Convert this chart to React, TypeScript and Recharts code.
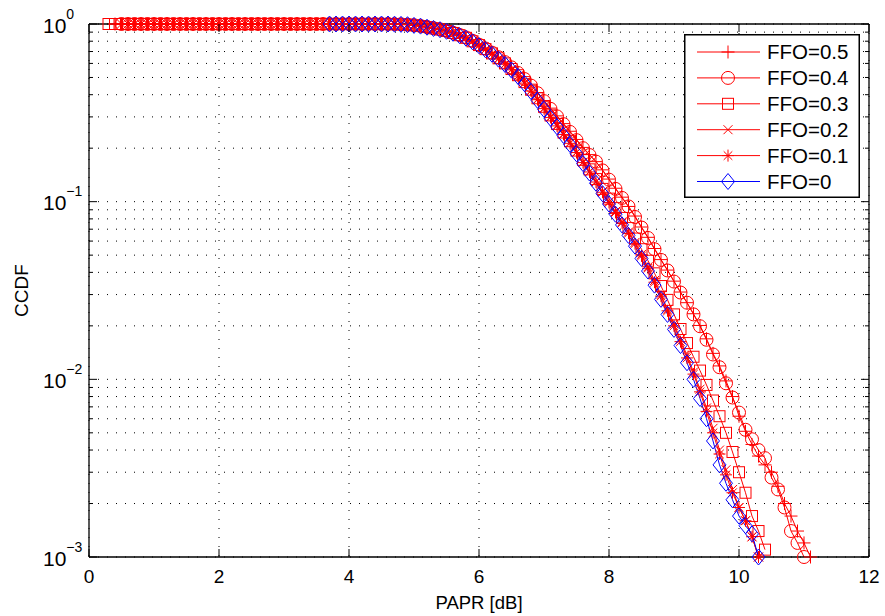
import React from 'react';
import { LineChart, Line, XAxis, YAxis, CartesianGrid, ReferenceLine, Legend } from 'recharts';

// PAPR threshold grid [dB]
const PAPR = [
  0.3, 0.4, 0.5, 0.6, 0.7, 0.8, 0.9, 1.0, 1.1, 1.2,
  1.3, 1.4, 1.5, 1.6, 1.7, 1.8, 1.9, 2.0, 2.1, 2.2,
  2.3, 2.4, 2.5, 2.6, 2.7, 2.8, 2.9, 3.0, 3.1, 3.2,
  3.3, 3.4, 3.5, 3.6, 3.7, 3.8, 3.9, 4.0, 4.1, 4.2,
  4.3, 4.4, 4.5, 4.6, 4.7, 4.8, 4.9, 5.0, 5.1, 5.2,
  5.3, 5.4, 5.5, 5.6, 5.7, 5.8, 5.9, 6.0, 6.1, 6.2,
  6.3, 6.4, 6.5, 6.6, 6.7, 6.8, 6.9, 7.0, 7.1, 7.2,
  7.3, 7.4, 7.5, 7.6, 7.7, 7.8, 7.9, 8.0, 8.1, 8.2,
  8.3, 8.4, 8.5, 8.6, 8.7, 8.8, 8.9, 9.0, 9.1, 9.2,
  9.3, 9.4, 9.5, 9.6, 9.7, 9.8, 9.9, 10.0, 10.1, 10.2,
  10.3, 10.4, 10.5, 10.6, 10.7, 10.8, 10.9, 11.0, 11.1,
];

// CCDF per FFO, each list starts at its own first PAPR value
const FFO_05_START = 0.4;
const FFO_05 = [
  1, 1, 1, 1, 1, 1, 1, 1, 1, 1,
  1, 1, 1, 1, 1, 1, 1, 1, 1, 1,
  1, 1, 1, 1, 1, 1, 1, 1, 1, 1,
  1, 1, 1, 1, 1, 1, 1, 1, 1, 1,
  1, 1, 1,
  0.998, 0.996, 0.992, 0.985, 0.975, 0.963, 0.949, 0.934, 0.916, 0.894,
  0.869, 0.841, 0.805, 0.767, 0.73, 0.692, 0.652, 0.612, 0.572, 0.532,
  0.492, 0.452, 0.411, 0.371, 0.336, 0.304, 0.275, 0.249, 0.224, 0.202,
  0.184, 0.168, 0.151, 0.134, 0.119, 0.106, 0.094, 0.083, 0.072, 0.063,
  0.0545, 0.0472, 0.0412, 0.0357, 0.031, 0.027, 0.0234, 0.0201, 0.0169, 0.014,
  0.0119, 0.0098, 0.008, 0.0062, 0.0051, 0.0043, 0.0037, 0.0033, 0.003, 0.0025,
  0.002, 0.0017, 0.0014, 0.0012, 0.001,
];

const FFO_04_START = 0.5;
const FFO_04 = [
  1, 1, 1, 1, 1, 1, 1, 1, 1, 1,
  1, 1, 1, 1, 1, 1, 1, 1, 1, 1,
  1, 1, 1, 1, 1, 1, 1, 1, 1, 1,
  1, 1, 1, 1, 1, 1, 1, 1, 1, 1,
  1, 1,
  0.998, 0.996, 0.992, 0.984, 0.975, 0.962, 0.948, 0.933, 0.915, 0.893,
  0.868, 0.84, 0.804, 0.765, 0.728, 0.69, 0.65, 0.61, 0.57, 0.53,
  0.49, 0.45, 0.408, 0.368, 0.333, 0.302, 0.273, 0.247, 0.222, 0.2,
  0.183, 0.168, 0.15, 0.133, 0.118, 0.105, 0.094, 0.082, 0.0715, 0.0625,
  0.054, 0.047, 0.041, 0.0355, 0.0308, 0.027, 0.0232, 0.0199, 0.0167, 0.0138,
  0.0117, 0.0095, 0.0079, 0.0065, 0.0052, 0.0046, 0.004, 0.0036, 0.0028, 0.0024,
  0.0019, 0.0014, 0.0012, 0.001,
];

const FFO_03_START = 0.3;
const FFO_03 = [
  1, 1, 1, 1, 1, 1, 1, 1, 1, 1,
  1, 1, 1, 1, 1, 1, 1, 1, 1, 1,
  1, 1, 1, 1, 1, 1, 1, 1, 1, 1,
  1, 1, 1, 1, 1, 1, 1, 1, 1, 1,
  1, 1, 1, 1,
  0.998, 0.995, 0.992, 0.983, 0.974, 0.961, 0.946, 0.931, 0.913, 0.89,
  0.865, 0.836, 0.799, 0.761, 0.722, 0.683, 0.641, 0.6, 0.558, 0.515,
  0.471, 0.427, 0.382, 0.342, 0.306, 0.274, 0.245, 0.219, 0.194, 0.172,
  0.152, 0.134, 0.118, 0.104, 0.092, 0.081, 0.071, 0.062, 0.054, 0.0465,
  0.0395, 0.0335, 0.028, 0.0232, 0.0192, 0.016, 0.0134, 0.0112, 0.0093, 0.0076,
  0.0062, 0.005, 0.0039, 0.003, 0.0023, 0.0017, 0.0014, 0.0011,
];

const FFO_02_START = 0.5;
const FFO_02 = [
  1, 1, 1, 1, 1, 1, 1, 1, 1, 1,
  1, 1, 1, 1, 1, 1, 1, 1, 1, 1,
  1, 1, 1, 1, 1, 1, 1, 1, 1, 1,
  1, 1, 1, 1, 1, 1, 1, 1, 1, 1,
  1, 1,
  0.998, 0.995, 0.992, 0.983, 0.974, 0.96, 0.946, 0.93, 0.912, 0.889,
  0.863, 0.834, 0.797, 0.758, 0.72, 0.68, 0.638, 0.596, 0.554, 0.511,
  0.467, 0.422, 0.377, 0.336, 0.3, 0.269, 0.241, 0.215, 0.19, 0.167,
  0.148, 0.13, 0.114, 0.1, 0.088, 0.077, 0.0675, 0.059, 0.0505, 0.043,
  0.036, 0.03, 0.0248, 0.0205, 0.0168, 0.0136, 0.011, 0.0088, 0.0069, 0.0053,
  0.004, 0.0031, 0.0024, 0.0019, 0.0016, 0.0013, 0.001,
];

const FFO_01_START = 0.6;
const FFO_01 = [
  1, 1, 1, 1, 1, 1, 1, 1, 1, 1,
  1, 1, 1, 1, 1, 1, 1, 1, 1, 1,
  1, 1, 1, 1, 1, 1, 1, 1, 1, 1,
  1, 1, 1, 1, 1, 1, 1, 1, 1, 1,
  1,
  0.998, 0.996, 0.991, 0.983, 0.973, 0.96, 0.945, 0.929, 0.911, 0.888,
  0.862, 0.833, 0.796, 0.757, 0.718, 0.678, 0.636, 0.594, 0.552, 0.509,
  0.465, 0.42, 0.375, 0.334, 0.298, 0.267, 0.239, 0.213, 0.189, 0.166,
  0.147, 0.129, 0.113, 0.099, 0.087, 0.076, 0.0665, 0.058, 0.0495, 0.0422,
  0.0352, 0.0294, 0.0243, 0.02, 0.0163, 0.0132, 0.0107, 0.0085, 0.0066, 0.005,
  0.0038, 0.0029, 0.0023, 0.0019, 0.0016, 0.0013, 0.001,
];

const FFO_0_START = 3.7;
const FFO_0 = [
  1, 1, 1, 1, 1, 1, 1, 1, 1, 1,
  0.998, 0.995, 0.991, 0.982, 0.973, 0.959, 0.944, 0.929, 0.91, 0.887,
  0.861, 0.832, 0.794, 0.755, 0.716, 0.676, 0.634, 0.592, 0.55, 0.507,
  0.462, 0.417, 0.372, 0.331, 0.295, 0.264, 0.236, 0.21, 0.186, 0.164,
  0.145, 0.127, 0.111, 0.097, 0.085, 0.074, 0.0646, 0.0562, 0.0479, 0.0407,
  0.0339, 0.0282, 0.0232, 0.0191, 0.0155, 0.0124, 0.01, 0.0078, 0.006, 0.0045,
  0.0033, 0.0026, 0.0021, 0.0017, 0.0015, 0.00135, 0.001,
];

const X_TICKS = [0, 2, 4, 6, 8, 10, 12];
const Y_TICKS = [
  0.001, 0.002, 0.003, 0.004, 0.005, 0.006, 0.007, 0.008, 0.009,
  0.01, 0.02, 0.03, 0.04, 0.05, 0.06, 0.07, 0.08, 0.09,
  0.1, 0.2, 0.3, 0.4, 0.5, 0.6, 0.7, 0.8, 0.9,
  1,
];

const RED = '#ff0000';
const BLUE = '#0000ff';
const FONT = '"Liberation Sans", Arial, Helvetica, sans-serif';

const SERIES = [
  { key: 'ffo05', name: 'FFO=0.5', shape: 'plus', color: RED, values: FFO_05, start: FFO_05_START },
  { key: 'ffo04', name: 'FFO=0.4', shape: 'circle', color: RED, values: FFO_04, start: FFO_04_START },
  { key: 'ffo03', name: 'FFO=0.3', shape: 'square', color: RED, values: FFO_03, start: FFO_03_START },
  { key: 'ffo02', name: 'FFO=0.2', shape: 'x', color: RED, values: FFO_02, start: FFO_02_START },
  { key: 'ffo01', name: 'FFO=0.1', shape: 'star', color: RED, values: FFO_01, start: FFO_01_START },
  { key: 'ffo0', name: 'FFO=0', shape: 'diamond', color: BLUE, values: FFO_0, start: FFO_0_START },
];

const data = PAPR.map((papr, i) => {
  const row: Record<string, number | null> = { papr };
  SERIES.forEach((s) => {
    const j = i - PAPR.indexOf(s.start);
    row[s.key] = j >= 0 && j < s.values.length ? s.values[j] : null;
  });
  return row;
});

const W = 885;
const H = 616;
const MARGIN = { top: 24, right: 16, left: 0, bottom: 0 };
const Y_AXIS_W = 89;
const X_AXIS_H = 59;
const PLOT_W = W - MARGIN.right - Y_AXIS_W;
const PLOT_H = H - MARGIN.top - X_AXIS_H;

const Marker = ({ shape, cx, cy, color }: { shape: string; cx: number; cy: number; color: string }) => {
  const common = { stroke: color, strokeWidth: 1, fill: 'none' };
  switch (shape) {
    case 'plus':
      return <path d={`M${cx - 6.5},${cy}H${cx + 6.5}M${cx},${cy - 6.5}V${cy + 6.5}`} {...common} />;
    case 'circle':
      return <circle cx={cx} cy={cy} r={6.5} {...common} />;
    case 'square':
      return <rect x={cx - 5.5} y={cy - 5.5} width={11} height={11} {...common} />;
    case 'x':
      return <path d={`M${cx - 4.5},${cy - 4.5}L${cx + 4.5},${cy + 4.5}M${cx - 4.5},${cy + 4.5}L${cx + 4.5},${cy - 4.5}`} {...common} />;
    case 'star':
      return (
        <path
          d={`M${cx - 6},${cy}H${cx + 6}M${cx},${cy - 6}V${cy + 6}M${cx - 4.3},${cy - 4.3}L${cx + 4.3},${cy + 4.3}M${cx - 4.3},${cy + 4.3}L${cx + 4.3},${cy - 4.3}`}
          {...common}
        />
      );
    case 'diamond':
      return <path d={`M${cx},${cy - 8}L${cx + 6.5},${cy}L${cx},${cy + 8}L${cx - 6.5},${cy}Z`} {...common} />;
    default:
      return null;
  }
};

const makeDot = (shape: string, color: string, key: string) => (props: any) => {
  const { cx, cy, index } = props;
  if (cx == null || cy == null || isNaN(cy)) return <g key={`${key}-${index}`} />;
  return (
    <g key={`${key}-${index}`}>
      <Marker shape={shape} cx={cx} cy={cy} color={color} />
    </g>
  );
};

const isDecade = (v: number) => Math.abs(Math.log10(v) - Math.round(Math.log10(v))) < 1e-9;

const XTick = (props: any) => {
  const { x, y, payload } = props;
  return (
    <g>
      <line x1={x} y1={y} x2={x} y2={y - 8} stroke="#000" />
      <line x1={x} y1={y - PLOT_H} x2={x} y2={y - PLOT_H + 8} stroke="#000" />
      <text x={x} y={y + 26} textAnchor="middle" fontSize={19} fontFamily={FONT} fill="#000">
        {payload.value}
      </text>
    </g>
  );
};

const YTick = (props: any) => {
  const { x, y, payload } = props;
  const major = isDecade(payload.value);
  const len = major ? 8 : 4;
  const exp = Math.round(Math.log10(payload.value));
  return (
    <g>
      <line x1={x} y1={y} x2={x + len} y2={y} stroke="#000" />
      <line x1={x + PLOT_W} y1={y} x2={x + PLOT_W - len} y2={y} stroke="#000" />
      {major && (
        <text x={x - 46} y={y + 8.5} fontSize={21} fontFamily={FONT} fill="#000">
          10
          <tspan dy={-14} fontSize={14}>
            {exp < 0 ? `\u2212${-exp}` : exp}
          </tspan>
        </text>
      )}
    </g>
  );
};

const YLabel = (props: any) => {
  const vb = props.viewBox || { x: 0, y: MARGIN.top, width: Y_AXIS_W, height: PLOT_H };
  const cx = vb.x + 28;
  const cy = vb.y + vb.height / 2;
  return (
    <text x={cx} y={cy} transform={`rotate(-90 ${cx} ${cy})`} textAnchor="middle" fontSize={19} fontFamily={FONT} fill="#000">
      CCDF
    </text>
  );
};

const XLabel = (props: any) => {
  const vb = props.viewBox || { x: Y_AXIS_W, y: MARGIN.top + PLOT_H, width: PLOT_W, height: X_AXIS_H };
  return (
    <text x={vb.x + vb.width / 2} y={vb.y + 52} textAnchor="middle" fontSize={18.5} fontFamily={FONT} fill="#000">
      PAPR [dB]
    </text>
  );
};

const LegendBox = () => (
  <svg width={176} height={164} style={{ display: 'block' }}>
    <rect x={0.75} y={0.75} width={174.5} height={162.5} fill="#fff" stroke="#000" strokeWidth={1.5} />
    {SERIES.map((s, i) => {
      const cy = 18 + i * 25.9;
      return (
        <g key={s.key}>
          <line x1={13} x2={76} y1={cy} y2={cy} stroke={s.color} />
          <Marker shape={s.shape} cx={44} cy={cy} color={s.color} />
          <text x={83} y={cy + 7} fontSize={20.5} fontFamily={FONT} fill="#000">
            {s.name}
          </text>
        </g>
      );
    })}
  </svg>
);

export default function App() {
  return (
    <div style={{ position: 'absolute', left: 0, top: 0, width: W, height: H, background: '#fff' }}>
      <LineChart width={W} height={H} data={data} margin={MARGIN} style={{ fontFamily: FONT }}>
        <CartesianGrid stroke="#000" strokeDasharray="1 8" />
        <XAxis
          dataKey="papr"
          type="number"
          domain={[0, 12]}
          ticks={X_TICKS}
          interval={0}
          height={X_AXIS_H}
          tickSize={0}
          tickMargin={0}
          tickLine={false}
          axisLine={{ stroke: '#000', strokeWidth: 1.3 }}
          tick={(p: any) => <XTick {...p} />}
          label={<XLabel />}
        />
        <YAxis
          type="number"
          scale="log"
          domain={[0.001, 1]}
          ticks={Y_TICKS}
          interval={0}
          width={Y_AXIS_W}
          tickSize={0}
          tickMargin={0}
          tickLine={false}
          axisLine={{ stroke: '#000', strokeWidth: 1.3 }}
          tick={(p: any) => <YTick {...p} />}
          label={<YLabel />}
        />
        <ReferenceLine x={12} stroke="#000" strokeWidth={1.3} />
        <ReferenceLine y={1} stroke="#000" strokeWidth={1.3} />
        {SERIES.map((s) => (
          <Line
            key={s.key}
            type="linear"
            dataKey={s.key}
            name={s.name}
            stroke={s.color}
            strokeWidth={1}
            dot={makeDot(s.shape, s.color, s.key)}
            activeDot={false}
            isAnimationActive={false}
          />
        ))}
        <Legend
          layout="vertical"
          align="center"
          verticalAlign="middle"
          content={() => <LegendBox />}
          wrapperStyle={{ left: 684, top: 34, width: 176, height: 164 }}
        />
      </LineChart>
    </div>
  );
}
